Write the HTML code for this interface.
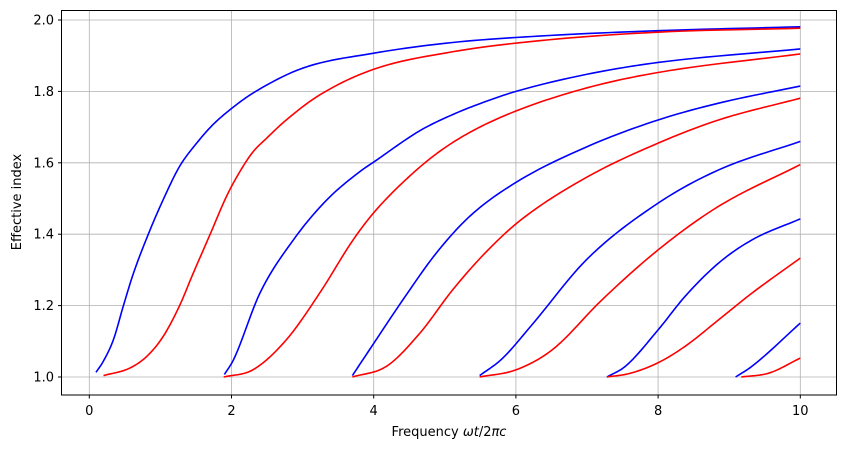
<!DOCTYPE html>
<html><head><meta charset="utf-8"><style>
body{margin:0;background:#fff;}
svg text{font-family:"DejaVu Sans","Liberation Sans",sans-serif;font-size:13px;fill:#000;}
</style></head><body>
<svg id="chart" width="846" height="451" viewBox="0 0 846 451" xmlns="http://www.w3.org/2000/svg">
<g id="grid"></g>
<g id="curves"></g>
<rect x="61.5" y="10.5" width="775" height="384.5" fill="none" stroke="#000" stroke-width="1"/>
<g id="ticks"></g>
<text x="449" y="436" text-anchor="middle">Frequency <tspan font-style="italic">ωt</tspan>/2<tspan font-style="italic">πc</tspan></text>
<text transform="translate(21,202) rotate(-90)" text-anchor="middle">Effective index</text>
</svg>
<script>
const xTicks=[0,2,4,6,8,10];
const yTicks=[1.0,1.2,1.4,1.6,1.8,2.0];
const xTickLabels=["0","2","4","6","8","10"];
const yTickLabels=["1.0","1.2","1.4","1.6","1.8","2.0"];
const blue1X=[0.094,0.197,0.34,0.48,0.62,0.83,1.04,1.27,1.51,1.74,2.0,2.30,3.0,4.0,5.11,6.33,8.0,10.0];
const blue1Y=[1.013,1.044,1.105,1.2,1.29,1.40,1.497,1.59,1.655,1.707,1.752,1.795,1.865,1.907,1.937,1.955,1.97,1.981];
const red1X=[0.2,0.57,0.81,1.04,1.27,1.46,1.70,1.93,2.12,2.30,2.50,2.77,3.24,4.0,5.11,6.33,8.0,10.0];
const red1Y=[1.004,1.025,1.058,1.114,1.2,1.29,1.40,1.506,1.576,1.63,1.67,1.72,1.79,1.862,1.911,1.942,1.966,1.977];
const blue2X=[1.90,2.03,2.40,2.87,3.34,3.81,4.0,4.65,5.11,5.58,6.0,7.0,8.0,10.0];
const blue2Y=[1.007,1.049,1.235,1.384,1.496,1.576,1.602,1.69,1.735,1.772,1.80,1.848,1.881,1.919];
const red2X=[1.89,2.30,2.77,3.24,3.71,4.0,4.41,4.88,5.35,6.0,7.0,8.0,10.0];
const red2Y=[1.0,1.02,1.104,1.235,1.384,1.46,1.545,1.625,1.685,1.745,1.81,1.853,1.905];
const blue3X=[3.70,3.94,4.41,4.88,5.35,6.0,7.0,8.0,8.85,10.0];
const blue3Y=[1.004,1.076,1.216,1.347,1.45,1.545,1.645,1.72,1.767,1.815];
const red3X=[3.70,4.18,4.65,5.11,5.58,6.07,7.0,8.0,8.85,10.0];
const red3Y=[1.0,1.03,1.123,1.244,1.35,1.44,1.56,1.655,1.72,1.781];
const blue4X=[5.49,5.8,6.2,7.0,8.0,8.85,10.0];
const blue4Y=[1.004,1.05,1.14,1.33,1.487,1.58,1.66];
const red4X=[5.49,6.0,6.51,7.21,8.0,8.85,10.0];
const red4Y=[1.0,1.02,1.076,1.216,1.356,1.478,1.595];
const blue5X=[7.28,7.54,8.0,8.38,8.85,9.32,10.0];
const blue5Y=[1.0,1.03,1.132,1.226,1.319,1.384,1.443];
const red5X=[7.28,7.6,8.0,8.38,8.85,9.32,10.0];
const red5Y=[1.0,1.01,1.04,1.086,1.16,1.235,1.333];
const blue6X=[9.09,9.32,10.0];
const blue6Y=[1.0,1.03,1.151];
const red6X=[9.17,9.56,10.0];
const red6Y=[1.0,1.011,1.053];

const NS="http://www.w3.org/2000/svg";
function xs(v){return 89.3+71.1*v;}
function ys(v){return 377-357*(v-1);}
const grid=document.getElementById('grid'),ticks=document.getElementById('ticks'),curves=document.getElementById('curves');
xTicks.forEach((t,i)=>{
  const l=document.createElementNS(NS,'line');
  
  
  l.setAttribute('x1',xs(t));l.setAttribute('x2',xs(t));l.setAttribute('y1',10.5);l.setAttribute('y2',395);
  l.setAttribute('stroke','#b0b0b0');l.setAttribute('stroke-width','0.8');grid.appendChild(l);
  const tk=document.createElementNS(NS,'line');
  
  
  tk.setAttribute('x1',xs(t));tk.setAttribute('x2',xs(t));tk.setAttribute('y1',395);tk.setAttribute('y2',398.5);
  tk.setAttribute('stroke','#000');ticks.appendChild(tk);
  const tx=document.createElementNS(NS,'text');
  
  
  tx.setAttribute('x',xs(t));tx.setAttribute('y',415);tx.setAttribute('text-anchor','middle');
  tx.textContent=xTickLabels[i];ticks.appendChild(tx);
});
yTicks.forEach((t,i)=>{
  const l=document.createElementNS(NS,'line');
  
  
  l.setAttribute('x1',61.5);l.setAttribute('x2',836.5);l.setAttribute('y1',ys(t));l.setAttribute('y2',ys(t));
  l.setAttribute('stroke','#b0b0b0');l.setAttribute('stroke-width','0.8');grid.appendChild(l);
  const tk=document.createElementNS(NS,'line');
  
  
  tk.setAttribute('x1',58);tk.setAttribute('x2',61.5);tk.setAttribute('y1',ys(t));tk.setAttribute('y2',ys(t));
  tk.setAttribute('stroke','#000');ticks.appendChild(tk);
  const tx=document.createElementNS(NS,'text');
  
  
  tx.setAttribute('x',54);tx.setAttribute('y',ys(t)+4.5);tx.setAttribute('text-anchor','end');
  tx.textContent=yTickLabels[i];ticks.appendChild(tx);
});
// monotone cubic (Fritsch–Carlson) interpolation in data space
function pathFor(X,Y){
  const n=X.length,d=[],m=[];
  for(let i=0;i<n-1;i++)d.push((Y[i+1]-Y[i])/(X[i+1]-X[i]));
  m[0]=d[0];m[n-1]=d[n-2];
  for(let i=1;i<n-1;i++)m[i]=(d[i-1]*d[i]<=0)?0:(d[i-1]+d[i])/2;
  for(let i=0;i<n-1;i++){
    if(d[i]===0){m[i]=0;m[i+1]=0;continue;}
    const a=m[i]/d[i],b=m[i+1]/d[i],s=a*a+b*b;
    if(s>9){const t=3/Math.sqrt(s);m[i]=t*a*d[i];m[i+1]=t*b*d[i];}
  }
  let path='M'+xs(X[0]).toFixed(2)+','+ys(Y[0]).toFixed(2);
  for(let i=0;i<n-1;i++){
    const h=X[i+1]-X[i];
    for(let k=1;k<=12;k++){
      const t=k/12,t2=t*t,t3=t2*t;
      const y=(2*t3-3*t2+1)*Y[i]+(t3-2*t2+t)*h*m[i]+(-2*t3+3*t2)*Y[i+1]+(t3-t2)*h*m[i+1];
      path+=' L'+xs(X[i]+t*h).toFixed(2)+','+ys(y).toFixed(2);
    }
  }
  return path;
}
const series=[[blue1X,blue1Y,'#0000ff','te-mode-0'],[red1X,red1Y,'#ff0000','tm-mode-0'],
[blue2X,blue2Y,'#0000ff','te-mode-1'],[red2X,red2Y,'#ff0000','tm-mode-1'],
[blue3X,blue3Y,'#0000ff','te-mode-2'],[red3X,red3Y,'#ff0000','tm-mode-2'],
[blue4X,blue4Y,'#0000ff','te-mode-3'],[red4X,red4Y,'#ff0000','tm-mode-3'],
[blue5X,blue5Y,'#0000ff','te-mode-4'],[red5X,red5Y,'#ff0000','tm-mode-4'],
[blue6X,blue6Y,'#0000ff','te-mode-5'],[red6X,red6Y,'#ff0000','tm-mode-5']];
series.forEach(s=>{
  const pa=document.createElementNS(NS,'path');
  
  
  pa.setAttribute('d',pathFor(s[0],s[1]));
  pa.setAttribute('fill','none');pa.setAttribute('stroke',s[2]);pa.setAttribute('stroke-width','1.6');
  pa.setAttribute('stroke-linejoin','round');
  curves.appendChild(pa);
});
</script>
</body></html>
